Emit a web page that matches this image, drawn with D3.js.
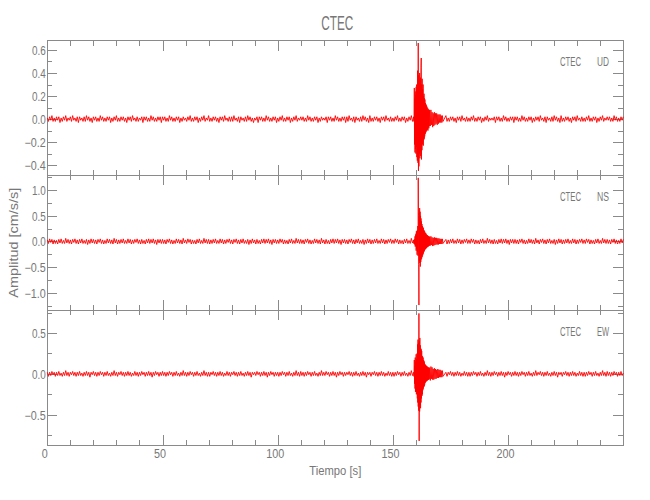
<!DOCTYPE html>
<html><head><meta charset="utf-8">
<script src="https://cdn.jsdelivr.net/npm/d3@7"></script>
<style>body{margin:0;background:#fff}svg{display:block}</style>
</head><body><svg id="c" width="650" height="500"></svg>
<script>
// ---------------- DATA ----------------
const station = "CTEC";
const channels = ["UD", "NS", "EW"];
const xDomain = [0, 250];
const xTicksMajor = [0, 50, 100, 150, 200];
const xTicksMinor = [10,20,30,40,60,70,80,90,110,120,130,140,160,170,180,190,210,220,230,240];

const yDomainUD = [-0.488, 0.682];
const yTicksUD = [-0.4, -0.2, 0.0, 0.2, 0.4, 0.6];
const yMinorUD = [-0.3, -0.1, 0.1, 0.3, 0.5];
const yDomainNS = [-1.34, 1.289];
const yTicksNS = [-1.0, -0.5, 0.0, 0.5, 1.0];
const yMinorNS = [-1.25, -0.75, -0.25, 0.25, 0.75, 1.25];
const yDomainEW = [-0.87, 0.78];
const yTicksEW = [-0.5, 0.0, 0.5];
const yMinorEW = [-0.75, -0.25, 0.25, 0.75];

// sampling of the stored segments (seconds)
const preStart = 0, preStep = 0.5;        // quiet part before the event
const eventStart = 159, eventStep = 0.1;  // strong motion
const codaStart = 166, codaStep = 0.25;   // coda
const postStart = 173, postStep = 0.5;    // quiet part after the event

// UD (cm/s/s)
const udPre = [
.01,-.02,.02,-.01,.03,-.02,.01,-.02,.02,-.01,.02,-.03,.01,-.02,.02,-.01,.03,-.02,.01,-.01,
.02,-.02,.03,-.01,.01,-.02,.02,-.03,.02,-.01,.01,-.02,.02,-.02,.03,-.01,.02,-.02,.01,-.03,
.02,-.01,.02,-.02,.01,-.02,.03,-.01,.02,-.02,.01,-.02,.02,-.01,.02,-.03,.01,-.02,.02,-.01,
.03,-.02,.01,-.02,.02,-.01,.02,-.02,.01,-.03,.02,-.01,.02,-.02,.03,-.01,.01,-.02,.02,-.02,
.01,-.01,.02,-.03,.02,-.01,.02,-.02,.01,-.02,.03,-.01,.02,-.02,.01,-.02,.02,-.01,.02,-.03,
.02,-.01,.02,-.02,.01,-.02,.03,-.01,.02,-.02,.01,-.02,.02,-.01,.02,-.03,.01,-.02,.02,-.01,
.01,-.02,.02,-.01,.03,-.02,.01,-.02,.02,-.01,.02,-.03,.01,-.02,.02,-.01,.03,-.02,.01,-.01,
.03,-.02,.01,-.02,.02,-.01,.02,-.02,.01,-.03,.02,-.01,.02,-.02,.03,-.01,.01,-.02,.02,-.02,
.02,-.02,.03,-.01,.01,-.02,.02,-.03,.02,-.01,.01,-.02,.02,-.02,.03,-.01,.02,-.02,.01,-.03,
.01,-.01,.02,-.03,.02,-.01,.02,-.02,.01,-.02,.03,-.01,.02,-.02,.01,-.02,.02,-.01,.02,-.03,
.01,-.02,.02,-.01,.03,-.02,.01,-.02,.02,-.01,.02,-.03,.01,-.02,.02,-.01,.03,-.02,.01,-.01,
.02,-.01,.02,-.02,.01,-.02,.03,-.01,.02,-.02,.01,-.02,.02,-.01,.02,-.03,.01,-.02,.02,-.01,
.01,-.01,.02,-.03,.02,-.01,.02,-.02,.01,-.02,.03,-.01,.02,-.02,.01,-.02,.02,-.01,.02,-.03,
.02,-.02,.03,-.01,.01,-.02,.02,-.03,.02,-.01,.01,-.02,.02,-.02,.03,-.01,.02,-.02,.01,-.03,
.03,-.02,.01,-.02,.02,-.01,.02,-.02,.01,-.03,.02,-.01,.02,-.02,.03,-.01,.01,-.02,.02,-.02,
.01,-.02,.02,-.01,.03,-.02,.01,-.02,.02,-.01,.02,-.03,.01,-.02,.02,-.01,.03,-.02];
const udEvent = [.02,-.02,.03,.27,-.22,.18,-.29,.24,-.26,.21,
-.3,.28,-.24,.3,-.33,.25,-.36,.42,-.3,-.38,
.66,-.45,.38,-.41,.35,-.3,.4,-.34,.3,-.28,
.36,-.32,.45,.53,-.35,.3,-.27,.35,-.22,.26,
-.2,.3,-.23,.2,-.18,.22,-.17,.18,-.15,.17,
-.13,.14,-.12,.13,-.11,.12,-.1,.11,-.09,.1,
-.09,.08,-.1,.09,-.07,.08,-.08,.07,-.06,.08];
const udCoda = [.07,-.06,.08,-.05,.06,-.07,.05,-.06,.06,-.05,.05,-.04,
.05,-.05,.04,-.04,.04,-.03,.04,-.03,.03,-.03,.03,-.02];
const udPost = [
.03,-.02,.01,-.02,.02,-.01,.02,-.02,.01,-.03,.02,-.01,.02,-.02,.03,-.01,.01,-.02,.02,-.02,
.01,-.02,.02,-.01,.03,-.02,.01,-.02,.02,-.01,.02,-.03,.01,-.02,.02,-.01,.03,-.02,.01,-.01,
.01,-.01,.02,-.03,.02,-.01,.02,-.02,.01,-.02,.03,-.01,.02,-.02,.01,-.02,.02,-.01,.02,-.03,
.02,-.01,.02,-.02,.01,-.02,.03,-.01,.02,-.02,.01,-.02,.02,-.01,.02,-.03,.01,-.02,.02,-.01,
.02,-.02,.03,-.01,.01,-.02,.02,-.03,.02,-.01,.01,-.02,.02,-.02,.03,-.01,.02,-.02,.01,-.03,
.03,-.02,.01,-.02,.02,-.01,.02,-.02,.01,-.03,.02,-.01,.02,-.02,.03,-.01,.01,-.02,.02,-.02,
.01,-.02,.02,-.01,.03,-.02,.01,-.02,.02,-.01,.02,-.03,.01,-.02,.02,-.01,.03,-.02,.01,-.01,
.02,-.01,.02,-.02,.01,-.02,.03,-.01,.02,-.02,.01,-.02,.02,-.01,.02];

// NS (cm/s/s)
const nsPre = [
.03,-.04,.05,-.02,.04,-.05,.03,-.04,.02,-.05,.04,-.03,.05,-.04,.02,-.04,.06,-.03,.04,-.04,
.03,-.05,.04,-.02,.05,-.04,.03,-.05,.04,-.03,.05,-.04,.02,-.04,.04,-.06,.03,-.04,.05,-.03,
.04,-.04,.03,-.05,.04,-.02,.05,-.04,.03,-.05,.02,-.04,.05,-.03,.04,-.04,.03,-.05,.06,-.03,
.04,-.05,.03,-.04,.04,-.03,.05,-.04,.02,-.04,.05,-.03,.04,-.05,.03,-.04,.04,-.02,.05,-.04,
.03,-.05,.04,-.04,.02,-.05,.04,-.03,.05,-.04,.04,-.03,.05,-.04,.03,-.06,.04,-.03,.04,-.04,
.04,-.04,.03,-.05,.04,-.02,.05,-.04,.03,-.05,.02,-.04,.05,-.03,.04,-.04,.03,-.05,.06,-.03,
.03,-.04,.05,-.02,.04,-.05,.03,-.04,.02,-.05,.04,-.03,.05,-.04,.02,-.04,.06,-.03,.04,-.04,
.04,-.05,.03,-.04,.04,-.03,.05,-.04,.02,-.04,.05,-.03,.04,-.05,.03,-.04,.04,-.02,.05,-.04,
.03,-.05,.04,-.02,.05,-.04,.03,-.05,.04,-.03,.05,-.04,.02,-.04,.04,-.06,.03,-.04,.05,-.03,
.03,-.05,.04,-.04,.02,-.05,.04,-.03,.05,-.04,.04,-.03,.05,-.04,.03,-.06,.04,-.03,.04,-.04,
.03,-.04,.05,-.02,.04,-.05,.03,-.04,.02,-.05,.04,-.03,.05,-.04,.02,-.04,.06,-.03,.04,-.04,
.04,-.04,.03,-.05,.04,-.02,.05,-.04,.03,-.05,.02,-.04,.05,-.03,.04,-.04,.03,-.05,.06,-.03,
.03,-.05,.04,-.04,.02,-.05,.04,-.03,.05,-.04,.04,-.03,.05,-.04,.03,-.06,.04,-.03,.04,-.04,
.03,-.05,.04,-.02,.05,-.04,.03,-.05,.04,-.03,.05,-.04,.02,-.04,.04,-.06,.03,-.04,.05,-.03,
.04,-.05,.03,-.04,.04,-.03,.05,-.04,.02,-.04,.05,-.03,.04,-.05,.03,-.04,.04,-.02,.05,-.04,
.03,-.04,.05,-.02,.04,-.05,.03,-.04,.02,-.05,.04,-.03,.05,-.04,.02,-.04,.06,-.03];
const nsEvent = [.03,-.04,.03,-.05,.04,-.06,.1,-.1,.12,-.09,
.15,-.18,.2,-.14,.18,-.26,.22,-.2,.3,-.28,
1.24,.5,-.45,-1.24,.55,-.38,.65,-.42,.58,-.49,
.5,-.4,.45,-.35,.39,-.33,.34,-.3,.3,-.27,
.28,-.25,.26,-.22,.22,-.2,.21,-.18,.19,-.16,
.17,-.15,.16,-.14,.15,-.13,.13,-.12,.12,-.11,
.12,-.1,.11,-.1,.1,-.09,.1,-.08,.09,-.08];
const nsCoda = [.09,-.08,.1,-.07,.08,-.09,.07,-.08,.08,-.07,.07,-.06,
.07,-.06,.06,-.06,.06,-.05,.05,-.05,.05,-.05,.05,-.04];
const nsPost = [
.04,-.05,.03,-.04,.04,-.03,.05,-.04,.02,-.04,.05,-.03,.04,-.05,.03,-.04,.04,-.02,.05,-.04,
.03,-.04,.05,-.02,.04,-.05,.03,-.04,.02,-.05,.04,-.03,.05,-.04,.02,-.04,.06,-.03,.04,-.04,
.03,-.05,.04,-.04,.02,-.05,.04,-.03,.05,-.04,.04,-.03,.05,-.04,.03,-.06,.04,-.03,.04,-.04,
.04,-.04,.03,-.05,.04,-.02,.05,-.04,.03,-.05,.02,-.04,.05,-.03,.04,-.04,.03,-.05,.06,-.03,
.03,-.05,.04,-.02,.05,-.04,.03,-.05,.04,-.03,.05,-.04,.02,-.04,.04,-.06,.03,-.04,.05,-.03,
.04,-.05,.03,-.04,.04,-.03,.05,-.04,.02,-.04,.05,-.03,.04,-.05,.03,-.04,.04,-.02,.05,-.04,
.03,-.04,.05,-.02,.04,-.05,.03,-.04,.02,-.05,.04,-.03,.05,-.04,.02,-.04,.06,-.03,.04,-.04,
.04,-.04,.03,-.05,.04,-.02,.05,-.04,.03,-.05,.02,-.04,.05,-.03,.04];

// EW (cm/s/s)
const ewPre = [
.02,-.03,.02,-.02,.03,-.01,.02,-.03,.02,-.02,.03,-.02,.01,-.03,.02,-.02,.04,-.02,.02,-.03,
.02,-.01,.03,-.02,.02,-.03,.02,-.02,.03,-.02,.01,-.03,.02,-.02,.03,-.02,.02,-.04,.02,-.01,
.03,-.02,.02,-.03,.02,-.02,.03,-.01,.02,-.03,.02,-.02,.03,-.02,.01,-.03,.02,-.02,.04,-.02,
.02,-.03,.02,-.01,.03,-.02,.02,-.03,.02,-.02,.03,-.02,.02,-.03,.01,-.02,.03,-.02,.02,-.03,
.02,-.02,.03,-.01,.02,-.03,.02,-.02,.03,-.02,.02,-.04,.02,-.02,.03,-.01,.02,-.03,.02,-.02,
.03,-.02,.02,-.03,.02,-.02,.03,-.01,.02,-.03,.02,-.02,.03,-.02,.01,-.03,.02,-.02,.04,-.02,
.02,-.03,.02,-.02,.03,-.01,.02,-.03,.02,-.02,.03,-.02,.01,-.03,.02,-.02,.04,-.02,.02,-.03,
.02,-.03,.02,-.01,.03,-.02,.02,-.03,.02,-.02,.03,-.02,.02,-.03,.01,-.02,.03,-.02,.02,-.03,
.02,-.01,.03,-.02,.02,-.03,.02,-.02,.03,-.02,.01,-.03,.02,-.02,.03,-.02,.02,-.04,.02,-.01,
.02,-.02,.03,-.01,.02,-.03,.02,-.02,.03,-.02,.02,-.04,.02,-.02,.03,-.01,.02,-.03,.02,-.02,
.02,-.03,.02,-.02,.03,-.01,.02,-.03,.02,-.02,.03,-.02,.01,-.03,.02,-.02,.04,-.02,.02,-.03,
.03,-.02,.02,-.03,.02,-.02,.03,-.01,.02,-.03,.02,-.02,.03,-.02,.01,-.03,.02,-.02,.04,-.02,
.02,-.02,.03,-.01,.02,-.03,.02,-.02,.03,-.02,.02,-.04,.02,-.02,.03,-.01,.02,-.03,.02,-.02,
.02,-.01,.03,-.02,.02,-.03,.02,-.02,.03,-.02,.01,-.03,.02,-.02,.03,-.02,.02,-.04,.02,-.01,
.02,-.03,.02,-.01,.03,-.02,.02,-.03,.02,-.02,.03,-.02,.02,-.03,.01,-.02,.03,-.02,.02,-.03,
.02,-.03,.02,-.02,.03,-.01,.02,-.03,.02,-.02,.03,-.02,.01,-.03,.02,-.02,.04,-.02];
const ewEvent = [.02,-.03,.02,.17,-.12,.1,-.18,.2,-.22,.15,
-.2,.24,-.25,.18,-.22,.25,-.3,.36,-.35,.42,
-.4,.38,-.45,.74,-.82,.4,-.46,.44,-.38,.35,
-.42,.31,-.35,.3,-.3,.28,-.27,.22,-.25,.21,
-.2,.2,-.18,.17,-.16,.16,-.15,.14,-.13,.12,
-.11,.11,-.1,.1,-.09,.1,-.09,.09,-.08,.09,
-.08,.08,-.07,.08,-.07,.07,-.07,.08,-.06,.07];
const ewCoda = [.07,-.08,.09,-.06,.08,-.07,.06,-.07,.07,-.06,.06,-.06,
.05,-.05,.06,-.05,.05,-.04,.05,-.04,.04,-.04,.04,-.03];
const ewPost = [
.02,-.03,.02,-.01,.03,-.02,.02,-.03,.02,-.02,.03,-.02,.02,-.03,.01,-.02,.03,-.02,.02,-.03,
.02,-.03,.02,-.02,.03,-.01,.02,-.03,.02,-.02,.03,-.02,.01,-.03,.02,-.02,.04,-.02,.02,-.03,
.02,-.02,.03,-.01,.02,-.03,.02,-.02,.03,-.02,.02,-.04,.02,-.02,.03,-.01,.02,-.03,.02,-.02,
.03,-.02,.02,-.03,.02,-.02,.03,-.01,.02,-.03,.02,-.02,.03,-.02,.01,-.03,.02,-.02,.04,-.02,
.02,-.01,.03,-.02,.02,-.03,.02,-.02,.03,-.02,.01,-.03,.02,-.02,.03,-.02,.02,-.04,.02,-.01,
.02,-.03,.02,-.01,.03,-.02,.02,-.03,.02,-.02,.03,-.02,.02,-.03,.01,-.02,.03,-.02,.02,-.03,
.02,-.03,.02,-.02,.03,-.01,.02,-.03,.02,-.02,.03,-.02,.01,-.03,.02,-.02,.04,-.02,.02,-.03,
.03,-.02,.02,-.03,.02,-.02,.03,-.01,.02,-.03,.02,-.02,.03,-.02,.01];

// ---------------- DRAWING ----------------
const L = 47.3, R = 623.3, T = 40.5, B = 445;
const axisColor = "#8a8a8a", textColor = "#777";
const fontFam = "'Liberation Sans', 'DejaVu Sans', sans-serif";

const svg = d3.select("#c");
const x = d3.scaleLinear().domain(xDomain).range([L, R]);
const panelH = (B - T) / 3;

function segment(vals, start, step) { return vals.map((v, i) => ({ t: start + i * step, v })); }
function buildSeries(pre, ev, coda, post) {
  return [].concat(segment(pre, preStart, preStep), segment(ev, eventStart, eventStep),
                   segment(coda, codaStart, codaStep), segment(post, postStart, postStep));
}

const panels = [
  { ch: channels[0], dom: yDomainUD, major: yTicksUD, minor: yMinorUD, data: buildSeries(udPre, udEvent, udCoda, udPost) },
  { ch: channels[1], dom: yDomainNS, major: yTicksNS, minor: yMinorNS, data: buildSeries(nsPre, nsEvent, nsCoda, nsPost) },
  { ch: channels[2], dom: yDomainEW, major: yTicksEW, minor: yMinorEW, data: buildSeries(ewPre, ewEvent, ewCoda, ewPost) }
];

function charWidth(s, digit, minus) {
  let w = 0;
  for (const c of s) w += (c === "." ? 2.6 : (c === "\u2212" || c === "-") ? minus : digit);
  return w;
}
const fmt = d3.format(".1f");

function styleAxis(g) {
  g.select(".domain").remove();
  g.selectAll("line").attr("stroke", axisColor).attr("stroke-width", 1).attr("shape-rendering", "crispEdges");
}

panels.forEach((p, i) => {
  const top = T + i * panelH, bot = T + (i + 1) * panelH;
  const y = d3.scaleLinear().domain(p.dom).range([bot, top]);
  const g = svg.append("g");

  g.append("rect").attr("x", L).attr("y", top).attr("width", R - L).attr("height", bot - top)
    .attr("fill", "none").attr("stroke", axisColor).attr("stroke-width", 1).attr("shape-rendering", "crispEdges");

  g.append("g").attr("transform", `translate(${L},0)`).call(d3.axisLeft(y).tickValues(p.major).tickSize(-10).tickSizeOuter(0).tickFormat("")).call(styleAxis);
  g.append("g").attr("transform", `translate(${L},0)`).call(d3.axisLeft(y).tickValues(p.minor).tickSize(-5).tickSizeOuter(0).tickFormat("")).call(styleAxis);
  g.append("g").attr("transform", `translate(${R},0)`).call(d3.axisRight(y).tickValues(p.major).tickSize(-10).tickSizeOuter(0).tickFormat("")).call(styleAxis);
  g.append("g").attr("transform", `translate(${R},0)`).call(d3.axisRight(y).tickValues(p.minor).tickSize(-5).tickSizeOuter(0).tickFormat("")).call(styleAxis);
  g.append("g").attr("transform", `translate(0,${top})`).call(d3.axisTop(x).tickValues(xTicksMajor.slice(1)).tickSize(-10).tickSizeOuter(0).tickFormat("")).call(styleAxis);
  g.append("g").attr("transform", `translate(0,${top})`).call(d3.axisTop(x).tickValues(xTicksMinor).tickSize(-5).tickSizeOuter(0).tickFormat("")).call(styleAxis);
  g.append("g").attr("transform", `translate(0,${bot})`).call(d3.axisBottom(x).tickValues(xTicksMajor.slice(1)).tickSize(-10).tickSizeOuter(0).tickFormat("")).call(styleAxis);
  g.append("g").attr("transform", `translate(0,${bot})`).call(d3.axisBottom(x).tickValues(xTicksMinor).tickSize(-5).tickSizeOuter(0).tickFormat("")).call(styleAxis);

  const yl = g.append("g").attr("transform", `translate(${L},0)`)
    .call(d3.axisLeft(y).tickValues(p.major).tickSize(0).tickPadding(1.5).tickFormat(fmt));
  yl.select(".domain").remove();
  yl.selectAll("text").attr("fill", textColor).attr("font-size", 12).attr("font-family", fontFam)
    .attr("dy", "0.36em")
    .attr("textLength", d => charWidth(fmt(d), 5.6, 7.5)).attr("lengthAdjust", "spacingAndGlyphs");

  const line = d3.line().x(d => x(d.t)).y(d => y(d.v));
  g.append("path").datum(p.data).attr("d", line).attr("fill", "none")
    .attr("stroke", "#ff0000").attr("stroke-width", 0.9).attr("stroke-linejoin", "round");

  const ly = top + 21.5 + 4.3;
  g.append("text").attr("x", 560).attr("y", ly).text(station).attr("fill", textColor)
    .attr("font-size", 12).attr("font-family", fontFam)
    .attr("textLength", 21).attr("lengthAdjust", "spacingAndGlyphs");
  g.append("text").attr("x", 597).attr("y", ly).text(p.ch).attr("fill", textColor)
    .attr("font-size", 12).attr("font-family", fontFam)
    .attr("textLength", 12).attr("lengthAdjust", "spacingAndGlyphs");
});

const xl = svg.append("g").attr("transform", `translate(0,${B})`)
  .call(d3.axisBottom(x).tickValues(xTicksMajor).tickSize(0).tickPadding(4).tickFormat(d3.format("d")));
xl.select(".domain").remove();
xl.selectAll("text").attr("fill", textColor).attr("font-size", 12).attr("font-family", fontFam)
  .attr("x", -3)
  .attr("textLength", d => charWidth(String(d), 6, 7)).attr("lengthAdjust", "spacingAndGlyphs");

svg.append("text").attr("x", (L + R) / 2).attr("y", 474.5).attr("text-anchor", "middle")
  .text("Tiempo [s]").attr("fill", textColor).attr("font-size", 12).attr("font-family", fontFam)
  .attr("textLength", 52).attr("lengthAdjust", "spacingAndGlyphs");
svg.append("text").attr("transform", `translate(17.5,${T + 1.5 * panelH}) rotate(-90)`).attr("text-anchor", "middle")
  .text("Amplitud [cm/s/s]").attr("fill", textColor).attr("font-size", 12).attr("font-family", fontFam)
  .attr("textLength", 110).attr("lengthAdjust", "spacingAndGlyphs");
svg.append("text").attr("x", (L + R) / 2 + 2).attr("y", 29.5).attr("text-anchor", "middle")
  .text(station).attr("fill", textColor).attr("font-size", 21).attr("font-family", fontFam)
  .attr("textLength", 32).attr("lengthAdjust", "spacingAndGlyphs");
</script></body></html>
